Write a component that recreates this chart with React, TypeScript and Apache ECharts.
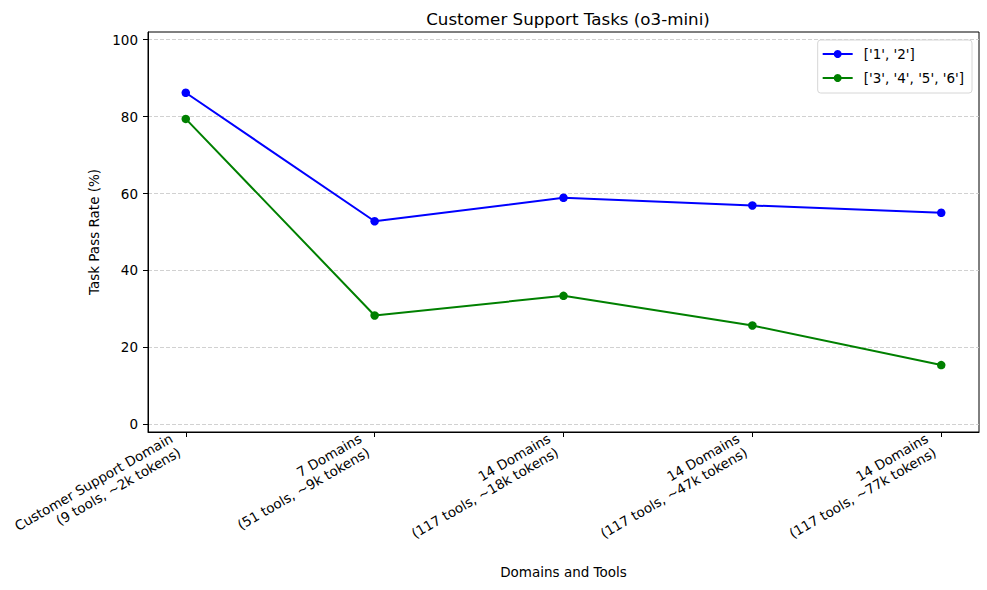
import React, { useEffect, useRef } from "react";
import * as echarts from "echarts";

const categories = [
  "Customer Support Domain\n(9 tools, ~2k tokens)",
  "7 Domains\n(51 tools, ~9k tokens)",
  "14 Domains\n(117 tools, ~18k tokens)",
  "14 Domains\n(117 tools, ~47k tokens)",
  "14 Domains\n(117 tools, ~77k tokens)",
];
const seriesNames = ["['1', '2']", "['3', '4', '5', '6']"];
const blueValues = [86.2, 52.8, 58.9, 56.9, 55.0];
const greenValues = [79.4, 28.3, 33.4, 25.7, 15.4];
const yTicks = [0, 20, 40, 60, 80, 100];
const xTicks = [0, 1, 2, 3, 4];

const FONT = "DejaVu Sans";

export default function App() {
  const ref = useRef<HTMLDivElement>(null);
  useEffect(() => {
    if (!ref.current) return;
    const chart = echarts.init(ref.current, null, { renderer: "svg" });
    const toPairs = (vals: number[]) => vals.map((v, i) => [xTicks[i], v]);
    chart.setOption({
      animation: false,
      backgroundColor: "#ffffff",
      textStyle: { fontFamily: FONT },
      title: {
        text: "Customer Support Tasks (o3-mini)",
        left: 563,
        textAlign: "center",
        top: 5,
        textStyle: { fontFamily: FONT, fontSize: 16.7, fontWeight: "normal", color: "#000" },
      },
      legend: {
        orient: "vertical",
        right: 15,
        top: 40,
        padding: [7, 8, 8, 4],
        itemWidth: 30,
        itemHeight: 10,
        itemGap: 10,
        borderColor: "#d6d6d6",
        borderWidth: 1,
        borderRadius: 3,
        backgroundColor: "rgba(255,255,255,0.8)",
        textStyle: { fontFamily: FONT, fontSize: 13.5, color: "#000", padding: [0, 0, 0, 6] },
        data: seriesNames,
      },
      grid: {
        left: 148,
        right: 8,
        top: 32,
        bottom: 158,
        show: true,
        borderColor: "#000",
        borderWidth: 1,
        backgroundColor: "transparent",
      },
      xAxis: {
        type: "value",
        min: -0.2,
        max: 4.2,
        name: "Domains and Tools",
        nameLocation: "middle",
        nameGap: 133,
        nameTextStyle: { fontFamily: FONT, fontSize: 13.5, color: "#000" },
        axisLine: { show: true, onZero: false, lineStyle: { color: "#000", width: 1 } },
        axisTick: { show: true, length: 5, customValues: xTicks, lineStyle: { color: "#000" } },
        splitLine: { show: false },
        axisLabel: {
          customValues: xTicks,
          rotate: 30,
          margin: 6,
          padding: [0, 12, 0, 0],
          fontFamily: FONT,
          fontSize: 13.5,
          color: "#000",
          lineHeight: 16,
          align: "right",
          formatter: (v: number) => categories[Math.round(v)] ?? "",
        },
      },
      yAxis: {
        type: "value",
        min: -2,
        max: 102,
        name: "Task Pass Rate (%)",
        nameLocation: "middle",
        nameGap: 36,
        nameTextStyle: { fontFamily: FONT, fontSize: 13.5, color: "#000" },
        axisLine: { show: true, onZero: false, lineStyle: { color: "#000", width: 1 } },
        axisTick: { show: true, length: 5, customValues: yTicks, lineStyle: { color: "#000" } },
        axisLabel: {
          customValues: yTicks,
          margin: 10,
          fontFamily: FONT,
          fontSize: 13.5,
          color: "#000",
        },
        splitLine: {
          show: true,
          lineStyle: { color: "#cccccc", type: [4, 2], width: 0.9 },
        },
      },
      series: [
        {
          name: seriesNames[0],
          type: "line",
          data: toPairs(blueValues),
          symbol: "circle",
          symbolSize: 8.5,
          color: "#0000ff",
          lineStyle: { width: 2, color: "#0000ff" },
          itemStyle: { color: "#0000ff" },
        },
        {
          name: seriesNames[1],
          type: "line",
          data: toPairs(greenValues),
          symbol: "circle",
          symbolSize: 8.5,
          color: "#008000",
          lineStyle: { width: 2, color: "#008000" },
          itemStyle: { color: "#008000" },
        },
      ],
    });
    return () => chart.dispose();
  }, []);
  return (
    <div
      ref={ref}
      style={{ position: "fixed", left: 0, top: 0, width: 987, height: 590 }}
    />
  );
}
